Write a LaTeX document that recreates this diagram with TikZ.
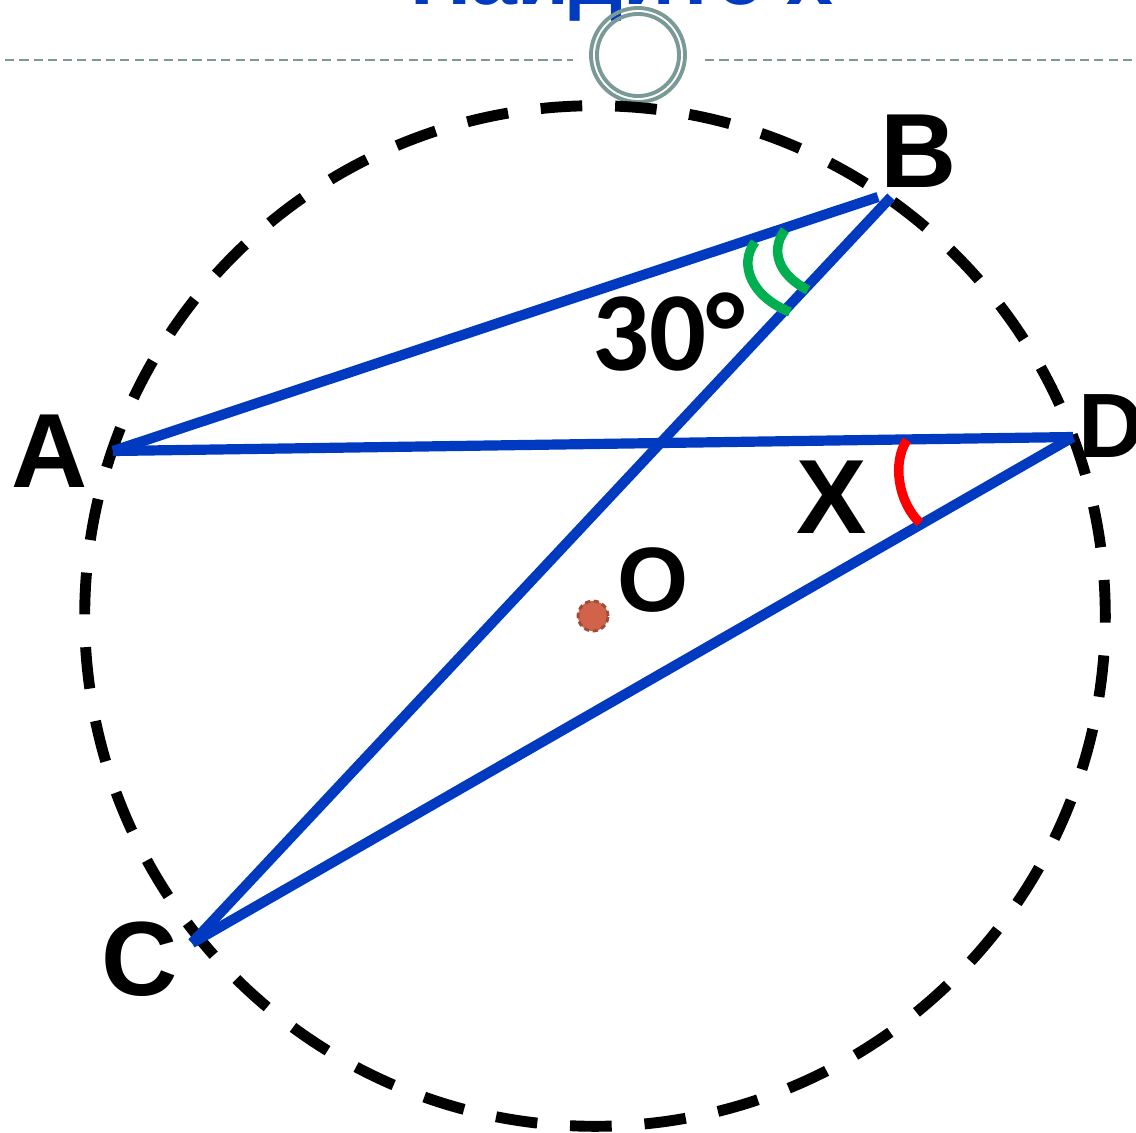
\documentclass[tikz,border=0pt]{standalone}
\usepackage{fontspec}
\setmainfont{Liberation Sans}
\newfontfamily\calfont{Carlito}
\usepackage{xcolor}
\usepackage{tikz}
\usetikzlibrary{calc}
\definecolor{lineblue}{RGB}{0,58,192}
\definecolor{markgreen}{RGB}{0,176,80}
\definecolor{guidegray}{RGB}{122,154,152}
\definecolor{dotred}{RGB}{208,99,74}
\definecolor{dotedge}{RGB}{160,74,56}
\tikzset{
  chord/.style={draw=lineblue, line width=2.9pt},
  circ/.style={draw=black, line width=3.1pt, dash pattern=on 11.85pt off 9.35pt, dash phase=1.6pt},
  greenarc/.style={draw=markgreen, line width=2.7pt},
  redarc/.style={draw=red, line width=2.7pt},
  guide/.style={draw=guidegray, line width=0.6pt, dash pattern=on 2.6pt off 1.5pt},
  ring/.style={draw=guidegray, line width=1.1pt},
  pt/.style={inner sep=0pt, font=\fontsize{30}{36}\selectfont\bfseries, anchor=base},
  smallpt/.style={inner sep=0pt, font=\fontsize{26}{31}\selectfont\bfseries, anchor=base},
  ang/.style={inner sep=0pt, font=\fontsize{32}{38}\selectfont\calfont\bfseries, anchor=base},
}

\begin{document}
\begin{tikzpicture}[x=0.01cm, y=-0.01cm]
  \clip (0,0) rectangle (1136,1133);
  % title and slide rule
  \node[inner sep=0pt, anchor=base, text=lineblue,
        font=\fontsize{24}{29}\selectfont\bfseries] (title) at (622,4) {Найдите х};
  \coordinate (gl1) at (5,60);    \coordinate (gl2) at (573,60);
  \coordinate (gr1) at (705,60);  \coordinate (gr2) at (1136,60);
  \draw[guide] (gl1) -- (gl2);
  \draw[guide] (gr1) -- (gr2);
  \coordinate (R) at (638,55);
  \draw[ring] (R) circle[radius=0.47cm];
  \draw[ring] (R) circle[radius=0.41cm];

  % circle and points
  \coordinate (O) at (595,616);
  \draw[circ] (O) circle[radius=5.1cm];
  \coordinate (A) at (113,451);
  \coordinate (B) at (891,197);
  \coordinate (Bab) at (878,197);
  \coordinate (C) at (192,943);
  \coordinate (D) at (1073,437);

  \draw[chord] (A) -- (Bab);
  \draw[chord] (B) -- (C);
  \draw[chord] (A) -- (D);
  \draw[chord] (D) -- (C);

  % angle marks
  \draw[greenarc] (785,230) .. controls (770,250) and (778,275) .. (808,290);
  \draw[greenarc] (755,242) .. controls (738,265) and (752,297) .. (790,312);
  \draw[redarc] (907,440) .. controls (892,462) and (898,502) .. (920,523);

  \filldraw[fill=dotred, draw=dotedge, line width=0.8pt, dash pattern=on 1.5pt off 1pt]
    (593,616) circle[radius=0.15cm];

  % labels
  \node[pt] (lA) at (50,487) {A};
  \node[pt] (lB) at (919,187) {B};
  \node[pt] (lC) at (140,995) {C};
  \node[smallpt, anchor=base west] (lD) at (1078,457) {D};
  \node[pt] (lX) at (832,533) {X};
  \node[smallpt] (lO) at (653,611) {O};
  \node[ang] (l30) at (669,370) {30°};
\end{tikzpicture}
\end{document}
